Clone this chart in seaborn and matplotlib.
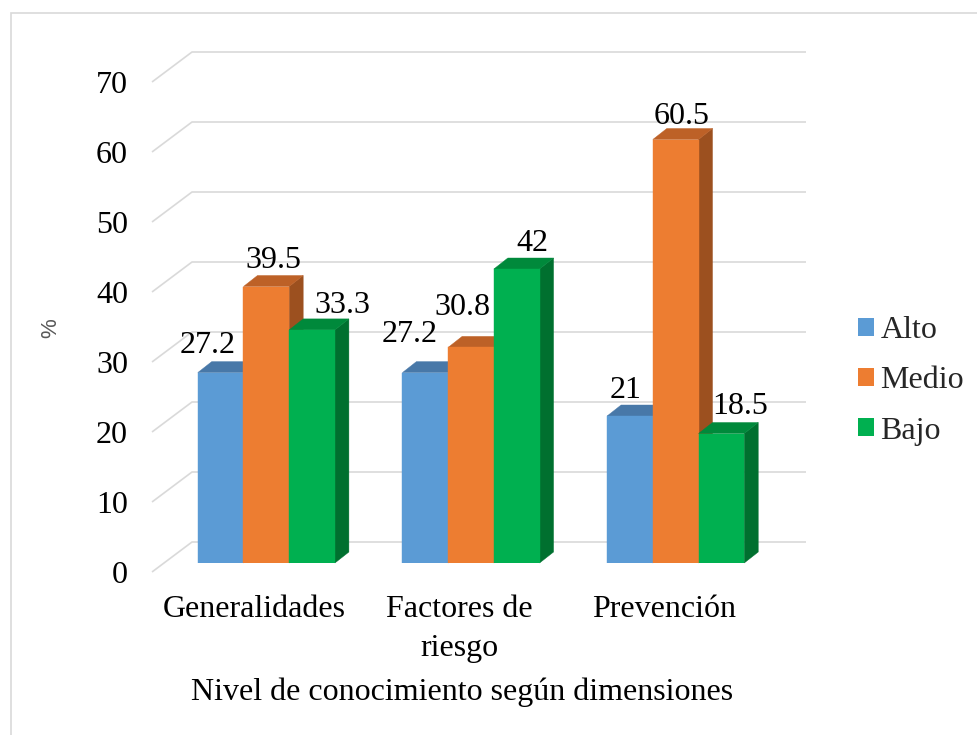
import numpy as np
import pandas as pd
import matplotlib
matplotlib.use("Agg")
import matplotlib.pyplot as plt
import seaborn as sns
from matplotlib.patches import Polygon, Rectangle, Patch

# ---------------- data ----------------
categories = ["Generalidades", "Factores de\nriesgo", "Prevención"]
levels = ["Alto", "Medio", "Bajo"]
alto = [27.2, 27.2, 21.0]
medio = [39.5, 30.8, 60.5]
bajo = [33.3, 42.0, 18.5]
y_ticks = [0, 10, 20, 30, 40, 50, 60, 70]
x_title = "Nivel de conocimiento según dimensiones"
y_title = "%"

# ---------------- style ----------------
front_colors = ["#5B9BD5", "#ED7D31", "#00B050"]
top_colors = ["#4878A8", "#BD6127", "#00893B"]
side_colors = ["#41709C", "#9C501F", "#00702F"]
# label nudges in pixels (dx right, dy up from bar front top to label centre)
label_nudges = {
    ("Alto", 0): (-13, 31), ("Medio", 0): (7, 30), ("Bajo", 0): (30, 28),
    ("Alto", 1): (-16, 42), ("Medio", 1): (-9, 43), ("Bajo", 1): (16, 29),
    ("Alto", 2): (-4, 29), ("Medio", 2): (6, 27), ("Bajo", 2): (19, 30),
}

values = {"Alto": alto, "Medio": medio, "Bajo": bajo}
rows = []
for lev in levels:
    for c, v in zip(categories, values[lev]):
        rows.append({"Dimension": c, "Nivel": lev, "Valor": v})
df = pd.DataFrame(rows)

sns.set_theme(style="white")
plt.rcParams["font.family"] = ["Liberation Serif", "DejaVu Serif"]
FS = 23

W, H = 977, 735
fig = plt.figure(figsize=(W / 100, H / 100), dpi=100)
fig.patch.set_facecolor("white")
# axes = the plane in which bar fronts stand
L, R, B, T = 164, 778, 563, 73
ax = fig.add_axes([L / W, (H - B) / H, (R - L) / W, (B - T) / H])

sns.barplot(data=df, x="Dimension", y="Valor", hue="Nivel", order=categories,
            hue_order=levels, palette=front_colors, saturation=1, width=0.67,
            errorbar=None, legend=False, ax=ax)
ax.set_xlim(-0.5, len(categories) - 0.5)
ax.set_ylim(y_ticks[0], y_ticks[-1])
ax.axis("off")

sx = (len(categories)) / (R - L)          # data units per pixel, x
sy = (y_ticks[-1] - y_ticks[0]) / (B - T)  # data units per pixel, y

# depth geometry in pixels
front_off = (-12, -9)   # floor front edge relative to bar plane
back_off = (28, 21)     # back wall relative to bar plane
bar_depth = (14, 11)

x0, x1 = ax.get_xlim()
grid_c = "#D9D9D9"
for v in y_ticks:
    xs = [x0 + front_off[0] * sx, x0 + back_off[0] * sx, x1 + back_off[0] * sx]
    ys = [v + front_off[1] * sy, v + back_off[1] * sy, v + back_off[1] * sy]
    ax.plot(xs, ys, color=grid_c, lw=1.2, zorder=0.5, clip_on=False,
            solid_capstyle="butt")
    ax.text(x0 + (front_off[0] - 24) * sx, v + (front_off[1] - 11) * sy, str(v),
            ha="right", va="baseline", fontsize=FS, color="black", clip_on=False)

# 3D faces
bars = []
for hi, cont in enumerate(ax.containers):
    for ci, bar in enumerate(cont):
        bars.append((bar.get_x(), hi, ci, bar))
bars.sort(key=lambda t: t[0])
ddx, ddy = bar_depth[0] * sx, bar_depth[1] * sy
for k, (_, hi, ci, bar) in enumerate(bars):
    bx, bw, bh = bar.get_x(), bar.get_width(), bar.get_height()
    base = 2 + 3 * k
    bar.set_zorder(base + 2)
    bar.set_edgecolor(front_colors[hi])
    bar.set_linewidth(0.3)
    top = Polygon([(bx, bh), (bx + bw, bh), (bx + bw + ddx, bh + ddy), (bx + ddx, bh + ddy)],
                  closed=True, facecolor=top_colors[hi], edgecolor=top_colors[hi],
                  lw=0.3, zorder=base + 1, clip_on=False)
    side = Polygon([(bx + bw, 0), (bx + bw + ddx, ddy), (bx + bw + ddx, bh + ddy), (bx + bw, bh)],
                   closed=True, facecolor=side_colors[hi], edgecolor=side_colors[hi],
                   lw=0.3, zorder=base + 1, clip_on=False)
    ax.add_patch(side)
    ax.add_patch(top)
    ndx, ndy = label_nudges[(levels[hi], ci)]
    val = bar.get_height()
    txt = f"{val:g}"
    ax.text(bx + bw / 2 + ndx * sx, bh + (ndy - 11) * sy, txt, ha="center",
            va="baseline", fontsize=FS, color="black", zorder=100, clip_on=False)

# category labels (on the floor front edge)
for i, c in enumerate(categories):
    ax.text(i + front_off[0] * sx, -(595 - B) * sy, c, ha="center", va="top",
            fontsize=FS, linespacing=1.45, color="black", clip_on=False)

fig.text(462 / W, 1 - 700 / H, x_title, ha="center", va="baseline", fontsize=FS,
         color="black")
fig.text(51 / W, 1 - 328 / H, y_title, rotation=90, ha="center", va="center",
         fontsize=16, color="#595959", family=["Liberation Sans", "DejaVu Sans"])

handles = [Patch(facecolor=c, edgecolor="none") for c in front_colors]
fig.legend(handles, levels, loc="center left", bbox_to_anchor=(858 / W, 1 - 381 / H),
           frameon=False, fontsize=FS, handlelength=0.5, handleheight=0.5,
           handletextpad=0.2, labelspacing=0.66, borderpad=0, borderaxespad=0)

fig.patches.append(Rectangle((10.5 / W, -0.1), 2.0, (H - 13.5) / H + 0.1,
                             transform=fig.transFigure, fill=False,
                             edgecolor="#D9D9D9", lw=1.2))

fig.savefig("out.png", dpi=100, facecolor="white")
